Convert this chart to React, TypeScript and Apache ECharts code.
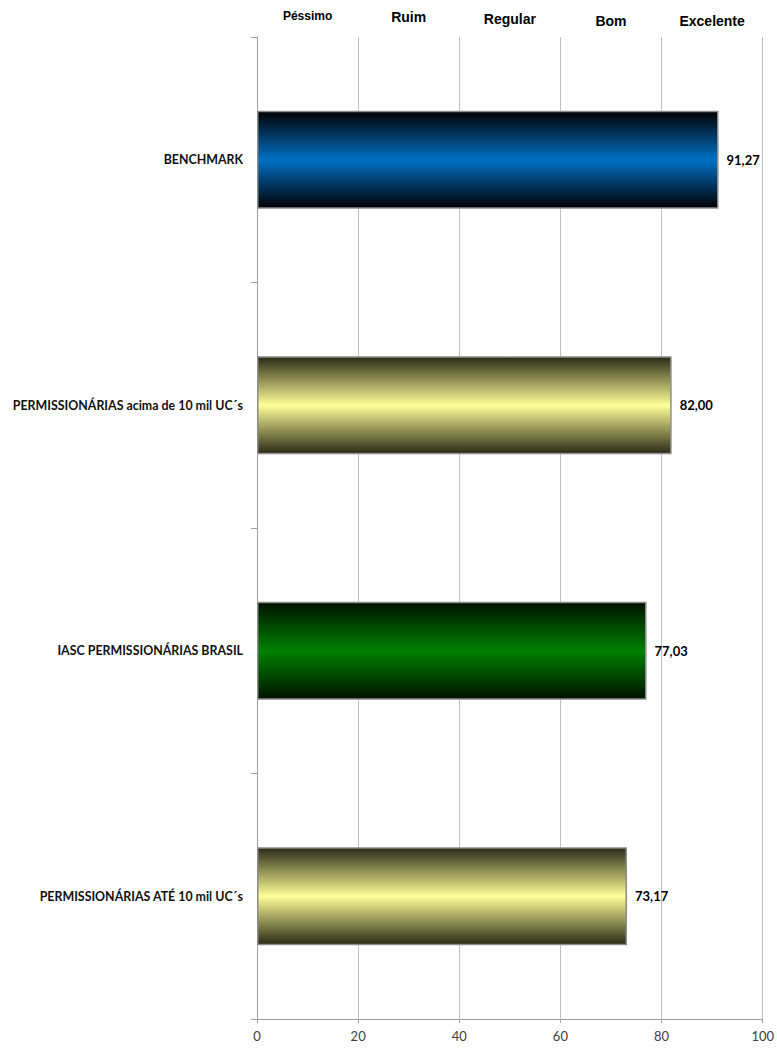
import React, { useEffect, useRef } from "react";
import * as echarts from "echarts";

const categories = [
  "BENCHMARK",
  "PERMISSIONÁRIAS acima de 10 mil UC´s",
  "IASC PERMISSIONÁRIAS BRASIL",
  "PERMISSIONÁRIAS ATÉ 10 mil UC´s",
];
const values = [91.27, 82.0, 77.03, 73.17];
const ratingLabels = ["Péssimo", "Ruim", "Regular", "Bom", "Excelente"];
const xTicks = [0, 20, 40, 60, 80, 100];

const grad = (edge: string, mid: string) =>
  new echarts.graphic.LinearGradient(0, 0, 0, 1, [
    { offset: 0, color: edge },
    { offset: 0.5, color: mid },
    { offset: 1, color: edge },
  ]);

const barColors = [
  ["#000000", "#0070c4"],
  ["#2a2a16", "#ffff99"],
  ["#001200", "#008000"],
  ["#2a2a16", "#ffff99"],
];

const topPad = [5, 4, 2, 0, 0];

export default function App() {
  const ref = useRef<HTMLDivElement>(null);
  useEffect(() => {
    if (!ref.current) return;
    const chart = echarts.init(ref.current, null, { renderer: "svg" });
    chart.setOption({
      animation: false,
      grid: { left: 257, right: 14, top: 37, bottom: 29, containLabel: false },
      xAxis: [
        {
          type: "value",
          min: xTicks[0],
          max: xTicks[xTicks.length - 1],
          interval: 20,
          position: "bottom",
          axisLine: { show: true, lineStyle: { color: "#a0a0a0" } },
          axisTick: { show: true, length: 4, lineStyle: { color: "#a0a0a0" } },
          axisLabel: { color: "#404040", fontFamily: "Lato", fontSize: 13, margin: 10 },
          splitLine: { show: true, lineStyle: { color: "#c0c0c0" } },
        },
        {
          type: "category",
          position: "top",
          data: ratingLabels.map((v, i) => ({
            value: v,
            textStyle: {
              fontSize: i === 0 ? 12 : 14,
              lineHeight: 16,
              padding: [0, 0, topPad[i], 0],
            },
          })),
          boundaryGap: true,
          axisLine: { show: false },
          axisTick: { show: false },
          splitLine: { show: false },
          axisLabel: {
            color: "#000",
            fontWeight: "bold",
            fontFamily: "Liberation Sans",
            margin: 8,
          },
        },
      ],
      yAxis: {
        type: "category",
        inverse: true,
        data: categories,
        axisLine: { show: true, lineStyle: { color: "#a0a0a0" } },
        axisTick: { show: true, length: 6, lineStyle: { color: "#a0a0a0" } },
        axisLabel: {
          color: "#111",
          fontWeight: "bold",
          fontFamily: "Lato",
          fontSize: 12.4,
          margin: 14,
        },
      },
      series: [
        {
          type: "bar",
          xAxisIndex: 0,
          barWidth: "40%",
          data: values.map((v, i) => ({
            value: v,
            itemStyle: {
              color: grad(barColors[i][0], barColors[i][1]),
              borderColor: "#8c8c8c",
              borderWidth: 1.5,
            },
          })),
          label: {
            show: true,
            position: "right",
            distance: 8,
            color: "#000",
            fontWeight: "bold",
            fontFamily: "Lato",
            fontSize: 13,
            formatter: (p: any) => p.value.toFixed(2).replace(".", ","),
          },
        },
      ],
    });
    return () => chart.dispose();
  }, []);
  return <div ref={ref} style={{ width: 777, height: 1048, position: "absolute", left: 0, top: 0 }} />;
}
